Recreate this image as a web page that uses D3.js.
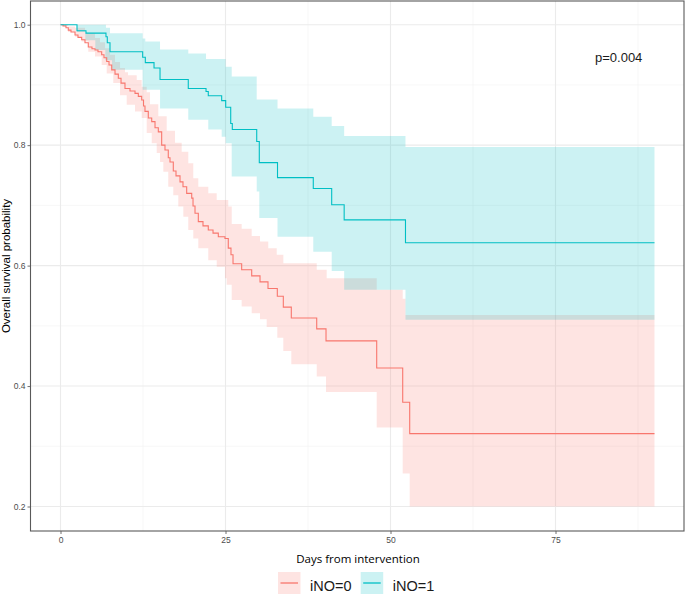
<!DOCTYPE html>
<html>
<head>
<meta charset="utf-8">
<script src="https://cdn.jsdelivr.net/npm/d3@7"></script>
<style>
body { margin: 0; background: #fff; }
</style>
</head>
<body>
<svg id="chart" width="685" height="597"></svg>
<script>
// ticks and labels
var xTicks = [0, 25, 50, 75];
var xMinor = [12.5, 37.5, 62.5, 87.5];
var yTicks = [0.2, 0.4, 0.6, 0.8, 1.0];
var yMinor = [0.3, 0.5, 0.7, 0.9];
var groups = ["iNO=0", "iNO=1"];
var colors = ["#F8766D", "#00BFC4"];
var lastDay = 90;
var pLabel = "p=0.004";

// iNO=0, survival curve
var redTime = [0, 0.38, 0.83, 1.18, 1.59, 2.20, 2.65, 3.21, 3.71, 4.21, 4.77, 5.23, 5.68, 6.24, 6.59, 7.00, 7.35, 7.76, 8.26, 8.76,
  9.17, 9.77, 10.53, 11.29, 11.79, 12.30, 12.58, 12.80, 13.30, 13.82, 14.32, 14.82, 15.33, 15.83, 16.33, 16.59, 17.09, 17.50, 18.11, 18.56,
  19.12, 19.88, 20.08, 20.38, 20.88, 21.59, 22.39, 23.11, 23.91, 24.92, 25.42, 25.83, 26.14, 27.45, 28.97, 30.23, 31.44, 32.85, 33.76, 34.97,
  38.82, 40.23, 47.91, 51.85, 52.91];
var redSurv = [1.000, 0.998, 0.995, 0.991, 0.988, 0.983, 0.979, 0.975, 0.970, 0.963, 0.960, 0.958, 0.955, 0.950, 0.945, 0.939, 0.933, 0.925, 0.918, 0.911,
  0.903, 0.894, 0.890, 0.886, 0.881, 0.875, 0.865, 0.856, 0.845, 0.839, 0.829, 0.822, 0.800, 0.792, 0.779, 0.772, 0.757, 0.749, 0.739, 0.731,
  0.720, 0.712, 0.699, 0.687, 0.673, 0.666, 0.659, 0.654, 0.648, 0.645, 0.629, 0.618, 0.603, 0.593, 0.583, 0.573, 0.562, 0.549, 0.531, 0.513,
  0.495, 0.475, 0.430, 0.373, 0.321];
// iNO=0, confidence band
var redUpTime = [0, 0.68, 2.20, 3.71, 5.23, 5.98, 6.74, 7.50, 8.26, 9.02, 9.77, 10.23, 11.55, 12.30, 13.06, 13.56, 14.82, 16.09, 17.35, 18.36,
  19.36, 20.12, 20.88, 22.39, 23.67, 25.42, 25.94, 27.45, 28.97, 30.23, 31.48, 32.76, 33.76, 38.82, 40.33, 47.91, 51.85, 52.27];
var redUp = [1.000, 0.997, 0.995, 0.986, 0.978, 0.971, 0.961, 0.950, 0.938, 0.928, 0.921, 0.916, 0.908, 0.897, 0.888, 0.868, 0.848, 0.824, 0.804, 0.789,
  0.770, 0.745, 0.731, 0.720, 0.709, 0.698, 0.669, 0.661, 0.649, 0.640, 0.629, 0.618, 0.604, 0.593, 0.579, 0.560, 0.545, 0.518];
var redLoTime = [0, 1.14, 2.20, 3.21, 4.21, 5.23, 6.24, 7.00, 8.00, 9.02, 10.03, 11.29, 12.30, 13.06, 13.82, 14.58, 15.08, 15.58, 16.33, 17.09,
  17.85, 18.61, 19.36, 20.12, 20.88, 22.39, 23.67, 24.92, 25.18, 25.94, 27.45, 28.97, 30.23, 31.24, 32.85, 33.76, 34.97, 38.82, 40.23, 47.91,
  51.85, 52.91];
var redLo = [1.000, 0.988, 0.980, 0.972, 0.955, 0.947, 0.933, 0.919, 0.903, 0.883, 0.867, 0.856, 0.845, 0.820, 0.803, 0.787, 0.772, 0.756, 0.731, 0.717,
  0.698, 0.681, 0.659, 0.645, 0.629, 0.609, 0.598, 0.579, 0.568, 0.543, 0.532, 0.521, 0.511, 0.498, 0.480, 0.458, 0.436, 0.416, 0.390, 0.331,
  0.255, 0.200];

// iNO=1, survival curve
var tealTime = [0, 2.50, 3.86, 6.89, 7.09, 7.50, 12.45, 12.85, 14.17, 15.08, 19.36, 22.05, 22.39, 24.42, 25.03, 25.79, 26.03, 29.73, 30.12, 32.88,
  38.30, 41.09, 42.98, 52.27];
var tealSurv = [1.000, 0.990, 0.986, 0.980, 0.970, 0.955, 0.946, 0.937, 0.928, 0.909, 0.894, 0.889, 0.882, 0.874, 0.863, 0.836, 0.826, 0.806, 0.771, 0.746,
  0.728, 0.701, 0.676, 0.638];
// iNO=1, confidence band
var tealUpTime = [0, 6.89, 7.50, 12.45, 12.85, 15.08, 19.36, 22.05, 25.03, 25.94, 29.73, 32.88, 38.30, 41.09, 42.98, 52.27];
var tealUp = [1.000, 0.995, 0.986, 0.977, 0.972, 0.959, 0.952, 0.943, 0.930, 0.914, 0.876, 0.861, 0.847, 0.832, 0.815, 0.797];
var tealLoTime = [0, 2.50, 3.76, 5.27, 6.79, 7.80, 12.45, 15.08, 19.36, 22.39, 24.42, 25.03, 25.94, 29.73, 30.12, 32.88, 38.30, 41.09, 42.98, 52.27];
var tealLo = [1.000, 0.988, 0.974, 0.958, 0.941, 0.925, 0.892, 0.861, 0.842, 0.826, 0.814, 0.803, 0.748, 0.723, 0.679, 0.648, 0.623, 0.591, 0.560, 0.510];

var svg = d3.select("#chart");
var panel = {left: 30.5, right: 684, top: 1, bottom: 531};

var x = d3.scaleLinear().domain([-4.5, 94.5]).range([30.8, 684.2]);
var y = d3.scaleLinear().domain([0.2, 1.0]).range([506.5, 24.7]);

// value of a step function at time t
function stepAt(times, vals, t) {
  var v = vals[0];
  for (var i = 0; i < times.length; i++) {
    if (times[i] <= t + 1e-9) v = vals[i];
  }
  return v;
}

function bandRows(upT, up, loT, lo) {
  var ts = Array.from(new Set(upT.concat(loT).concat([lastDay]))).sort(d3.ascending);
  return ts.map(function(t) {
    return {t: t, hi: stepAt(upT, up, t), lo: stepAt(loT, lo, t)};
  });
}

function curveRows(times, surv) {
  var rows = times.map(function(t, i) { return {t: t, s: surv[i]}; });
  rows.push({t: lastDay, s: surv[surv.length - 1]});
  return rows;
}

// grid
var grid = svg.append("g");
grid.selectAll(".xminor").data(xMinor).enter().append("line")
  .attr("x1", function(d) { return x(d); }).attr("x2", function(d) { return x(d); })
  .attr("y1", panel.top).attr("y2", panel.bottom)
  .style("stroke", "#F2F2F2").style("stroke-width", 0.6);
grid.selectAll(".yminor").data(yMinor).enter().append("line")
  .attr("y1", function(d) { return y(d); }).attr("y2", function(d) { return y(d); })
  .attr("x1", panel.left).attr("x2", panel.right)
  .style("stroke", "#F2F2F2").style("stroke-width", 0.6);
grid.selectAll(".xmajor").data(xTicks).enter().append("line")
  .attr("x1", function(d) { return x(d); }).attr("x2", function(d) { return x(d); })
  .attr("y1", panel.top).attr("y2", panel.bottom)
  .style("stroke", "#EBEBEB").style("stroke-width", 1.1);
grid.selectAll(".ymajor").data(yTicks).enter().append("line")
  .attr("y1", function(d) { return y(d); }).attr("y2", function(d) { return y(d); })
  .attr("x1", panel.left).attr("x2", panel.right)
  .style("stroke", "#EBEBEB").style("stroke-width", 1.1);

// bands
var area = d3.area().curve(d3.curveStepAfter)
  .x(function(d) { return x(d.t); })
  .y0(function(d) { return y(d.lo); })
  .y1(function(d) { return y(d.hi); });

var bands = [bandRows(redUpTime, redUp, redLoTime, redLo), bandRows(tealUpTime, tealUp, tealLoTime, tealLo)];
svg.selectAll(".band").data(bands).enter().append("path")
  .attr("class", "band")
  .attr("d", area)
  .style("fill", function(d, i) { return colors[i]; })
  .style("fill-opacity", 0.2)
  .style("stroke", "none");

// curves
var line = d3.line().curve(d3.curveStepAfter)
  .x(function(d) { return x(d.t); })
  .y(function(d) { return y(d.s); });

var curves = [curveRows(redTime, redSurv), curveRows(tealTime, tealSurv)];
svg.selectAll(".curve").data(curves).enter().append("path")
  .attr("class", "curve")
  .attr("d", line)
  .style("fill", "none")
  .style("stroke", function(d, i) { return colors[i]; })
  .style("stroke-width", 1.1);

// axes
var xAxis = svg.append("g")
  .attr("transform", "translate(0," + panel.bottom + ")")
  .call(d3.axisBottom(x).tickValues(xTicks).tickSize(3).tickPadding(3).tickFormat(d3.format("d")));
var yAxis = svg.append("g")
  .attr("transform", "translate(" + panel.left + ",0)")
  .call(d3.axisLeft(y).tickValues(yTicks).tickSize(3).tickPadding(2).tickFormat(d3.format(".1f")));
[xAxis, yAxis].forEach(function(a) {
  a.select(".domain").remove();
  a.selectAll(".tick line").style("stroke", "#4D4D4D").style("stroke-width", 0.8);
  a.selectAll(".tick text").style("fill", "#4D4D4D")
    .style("font-family", "'Liberation Sans', Arial, sans-serif").style("font-size", "8.5px");
});

// panel border
svg.append("rect")
  .attr("x", panel.left).attr("y", panel.top)
  .attr("width", panel.right - panel.left).attr("height", panel.bottom - panel.top)
  .style("fill", "none").style("stroke", "#595959").style("stroke-width", 1.1);

// titles
svg.append("text")
  .attr("transform", "translate(10," + ((panel.top + panel.bottom) / 2) + ") rotate(-90)")
  .attr("text-anchor", "middle")
  .style("font-family", "'Liberation Sans', Arial, sans-serif").style("font-size", "11.5px")
  .style("fill", "#000")
  .text("Overall survival probability");

svg.append("text")
  .attr("x", 358).attr("y", 563)
  .attr("text-anchor", "middle")
  .style("font-family", "'Open Sans', sans-serif").style("font-size", "11.5px")
  .style("fill", "#000")
  .text("Days from intervention");

svg.append("text")
  .attr("x", 595).attr("y", 61.5)
  .style("font-family", "'Liberation Sans', Arial, sans-serif").style("font-size", "13px")
  .style("fill", "#1a1a1a")
  .text(pLabel);

// legend
var legendX = [278, 360.7];
var legend = svg.selectAll(".key").data(groups).enter().append("g")
  .attr("class", "key")
  .attr("transform", function(d, i) { return "translate(" + legendX[i] + ",572)"; });
legend.append("rect")
  .attr("width", 22.5).attr("height", 22)
  .style("fill", function(d, i) { return colors[i]; })
  .style("fill-opacity", 0.2);
legend.append("line")
  .attr("x1", 2.5).attr("x2", 20).attr("y1", 11).attr("y2", 11)
  .style("stroke", function(d, i) { return colors[i]; })
  .style("stroke-width", 1.3);
legend.append("text")
  .attr("x", 32).attr("y", 18.5)
  .style("font-family", "'Liberation Sans', Arial, sans-serif").style("font-size", "14.5px")
  .style("fill", "#1a1a1a")
  .text(function(d) { return d; });
</script>
</body>
</html>
